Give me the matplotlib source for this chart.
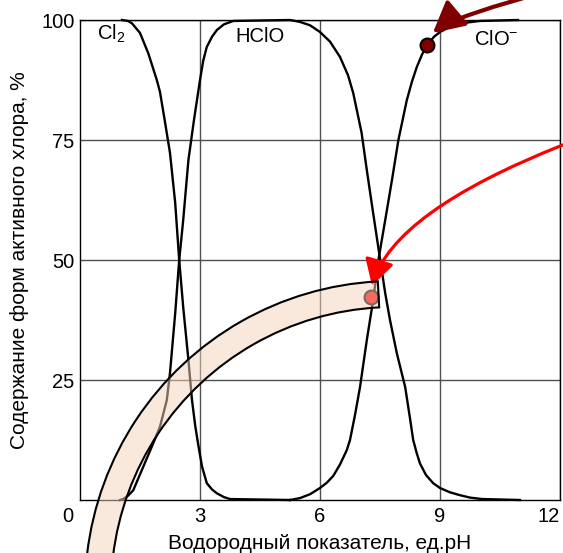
import matplotlib
matplotlib.use("Agg")
import matplotlib.pyplot as plt
from matplotlib.patches import Wedge, FancyArrowPatch
from matplotlib.transforms import ScaledTranslation

plt.rcParams['font.family'] = ['Liberation Sans', 'DejaVu Sans']
plt.rcParams['mathtext.fontset'] = 'custom'
plt.rcParams['mathtext.rm'] = 'Liberation Sans'
plt.rcParams['mathtext.it'] = 'Liberation Sans:italic'

# Distribution of active chlorine forms vs pH (percent)
ph_cl2 = [1.05, 1.2, 1.3, 1.5, 1.71, 1.92, 2.0, 2.12, 2.25, 2.38, 2.48, 2.58, 2.71,
          2.8, 2.88, 2.95, 3.05, 3.17, 3.3, 3.42, 3.6, 3.75, 5.25]
cl2 = [100, 99.8, 99.3, 97.3, 93, 87.5, 85, 79, 72.3, 61.9, 50, 40.2, 29.2,
       20.8, 15.5, 11.8, 7, 3.5, 2.2, 1.4, 0.6, 0.2, 0]

ph_hclo = [1.0, 1.08, 1.2, 1.33, 1.58, 1.83, 2.0, 2.17, 2.25, 2.38, 2.48, 2.58, 2.71,
           2.85, 3.0, 3.08, 3.17, 3.3, 3.42, 3.6, 3.83, 5.25, 5.5, 5.75, 6.0, 6.25,
           6.5, 6.7, 6.83, 7.04, 7.17, 7.33, 7.48, 7.63, 7.75, 7.92, 8.13, 8.25,
           8.33, 8.42, 8.5, 8.65, 8.83, 9.0, 9.25, 9.5, 9.75, 10.05, 11.0]
hclo = [0, 0.2, 0.9, 2, 6.9, 11.8, 15.3, 20.8, 26.5, 38.9, 50, 58.3, 70.8,
        79.2, 87.5, 91.5, 94.4, 96.5, 97.9, 99.1, 99.8, 100, 99.6, 98.9, 97.5, 95.5,
        92.3, 88.5, 84.8, 76.5, 68.75, 59.7, 51.4, 43.1, 37.5, 30.6, 23.5, 17,
        12.5, 9.7, 7.6, 5.2, 3.5, 2.5, 1.6, 1.0, 0.5, 0.2, 0]

ph_clo = [5.25, 5.5, 5.75, 6.0, 6.17, 6.33, 6.5, 6.67, 6.75, 6.87, 7.0, 7.17, 7.33,
          7.46, 7.63, 7.8, 7.96, 8.17, 8.3, 8.42, 8.55, 8.68, 8.85, 9.0, 9.25, 9.5,
          10.0, 10.95]
clo = [0, 0.4, 1.2, 2.5, 3.6, 5, 7.4, 10.4, 12.5, 17.5, 23.5, 33.3, 41.7,
       50, 58.3, 66.7, 75, 83.3, 87.2, 90.2, 92.8, 94.8, 96.5, 97.5, 98.6, 99.3,
       99.8, 100]

# highlighted states on the hypochlorite curve
mark_ph = [7.28, 8.68]
mark_pct = [42.3, 94.8]

xticks = [3, 6, 9, 12]
yticks = [25, 50, 75, 100]

fig = plt.figure(figsize=(5.63, 5.53), dpi=100)
ax = fig.add_axes([80 / 563, 53 / 553, 480 / 563, 480 / 553])
ax.set_xlim(0, 12)
ax.set_ylim(0, 100)
ax.set_xticks(xticks)
ax.set_yticks(yticks)
ax.set_xticklabels([str(t) for t in xticks])
ax.set_yticklabels([str(t) for t in yticks])
ax.tick_params(axis='both', length=0, labelsize=14.5)
ax.tick_params(axis='x', pad=5)
ax.tick_params(axis='y', pad=4)
ax.get_xticklabels()[-1].set_horizontalalignment('right')
ax.get_xticklabels()[-1].set_x(12.02)
ax.grid(True, color='#505050', lw=1, zorder=0)
ax.set_axisbelow(True)
for s in ax.spines.values():
    s.set_linewidth(1)
    s.set_color('black')

ax.text(-0.3, -1.4, '0', ha='center', va='top', fontsize=14.5, clip_on=False)

for xs, ys in [(ph_cl2, cl2), (ph_hclo, hclo), (ph_clo, clo)]:
    ax.plot(xs, ys, color='black', lw=1.7, zorder=3, solid_joinstyle='round',
            clip_on=False)

ax.text(0.42, 95.8, 'Cl$_2$', fontsize=14.5, ha='left', va='baseline')
ax.text(3.88, 95.4, 'HClO', fontsize=14.5, ha='left', va='baseline')
ax.text(9.85, 94.8, 'ClO$^{-}$', fontsize=14.5, ha='left', va='baseline')

ax.set_xlabel('Водородный показатель, ед.pH', fontsize=15, labelpad=6)
ax.set_ylabel('Содержание форм активного хлора, %', fontsize=15, labelpad=9)

# points
ax.plot(mark_ph[0], mark_pct[0], 'o', ms=10, mfc='#ff0000', mec='black', mew=1.5,
        zorder=5, clip_on=False)
ax.plot(mark_ph[1], mark_pct[1], 'o', ms=10, mfc='#800000', mec='black', mew=1.5,
        zorder=5, clip_on=False)

# pointer arrows
arr1 = FancyArrowPatch((12.08, 74.0), (7.3, 44.6),
                       connectionstyle='angle3,angleA=21.6,angleB=73.6',
                       arrowstyle='-|>,head_length=16,head_width=9',
                       mutation_scale=1, color='#ff0000', lw=2.3,
                       shrinkA=0, shrinkB=0, zorder=6, clip_on=False)
ax.add_patch(arr1)
arr2 = FancyArrowPatch((12.08, 106.9), (8.82, 97.3),
                       connectionstyle='angle3,angleA=15,angleB=40',
                       arrowstyle='-|>,head_length=19,head_width=10',
                       mutation_scale=1, color='#800000', lw=3,
                       shrinkA=0, shrinkB=0, zorder=6, clip_on=False)
ax.add_patch(arr2)

# translucent highlight band
band_tr = fig.dpi_scale_trans + ScaledTranslation(7.85, -18.75, ax.transData)
band = Wedge((0, 0), 3.09, 93, 200, width=0.26, transform=band_tr,
             facecolor=(243 / 255, 213 / 255, 187 / 255, 0.5),
             edgecolor='black', lw=1.5, zorder=7, clip_on=False)
fig.add_artist(band)

fig.savefig('out.png', dpi=100)
